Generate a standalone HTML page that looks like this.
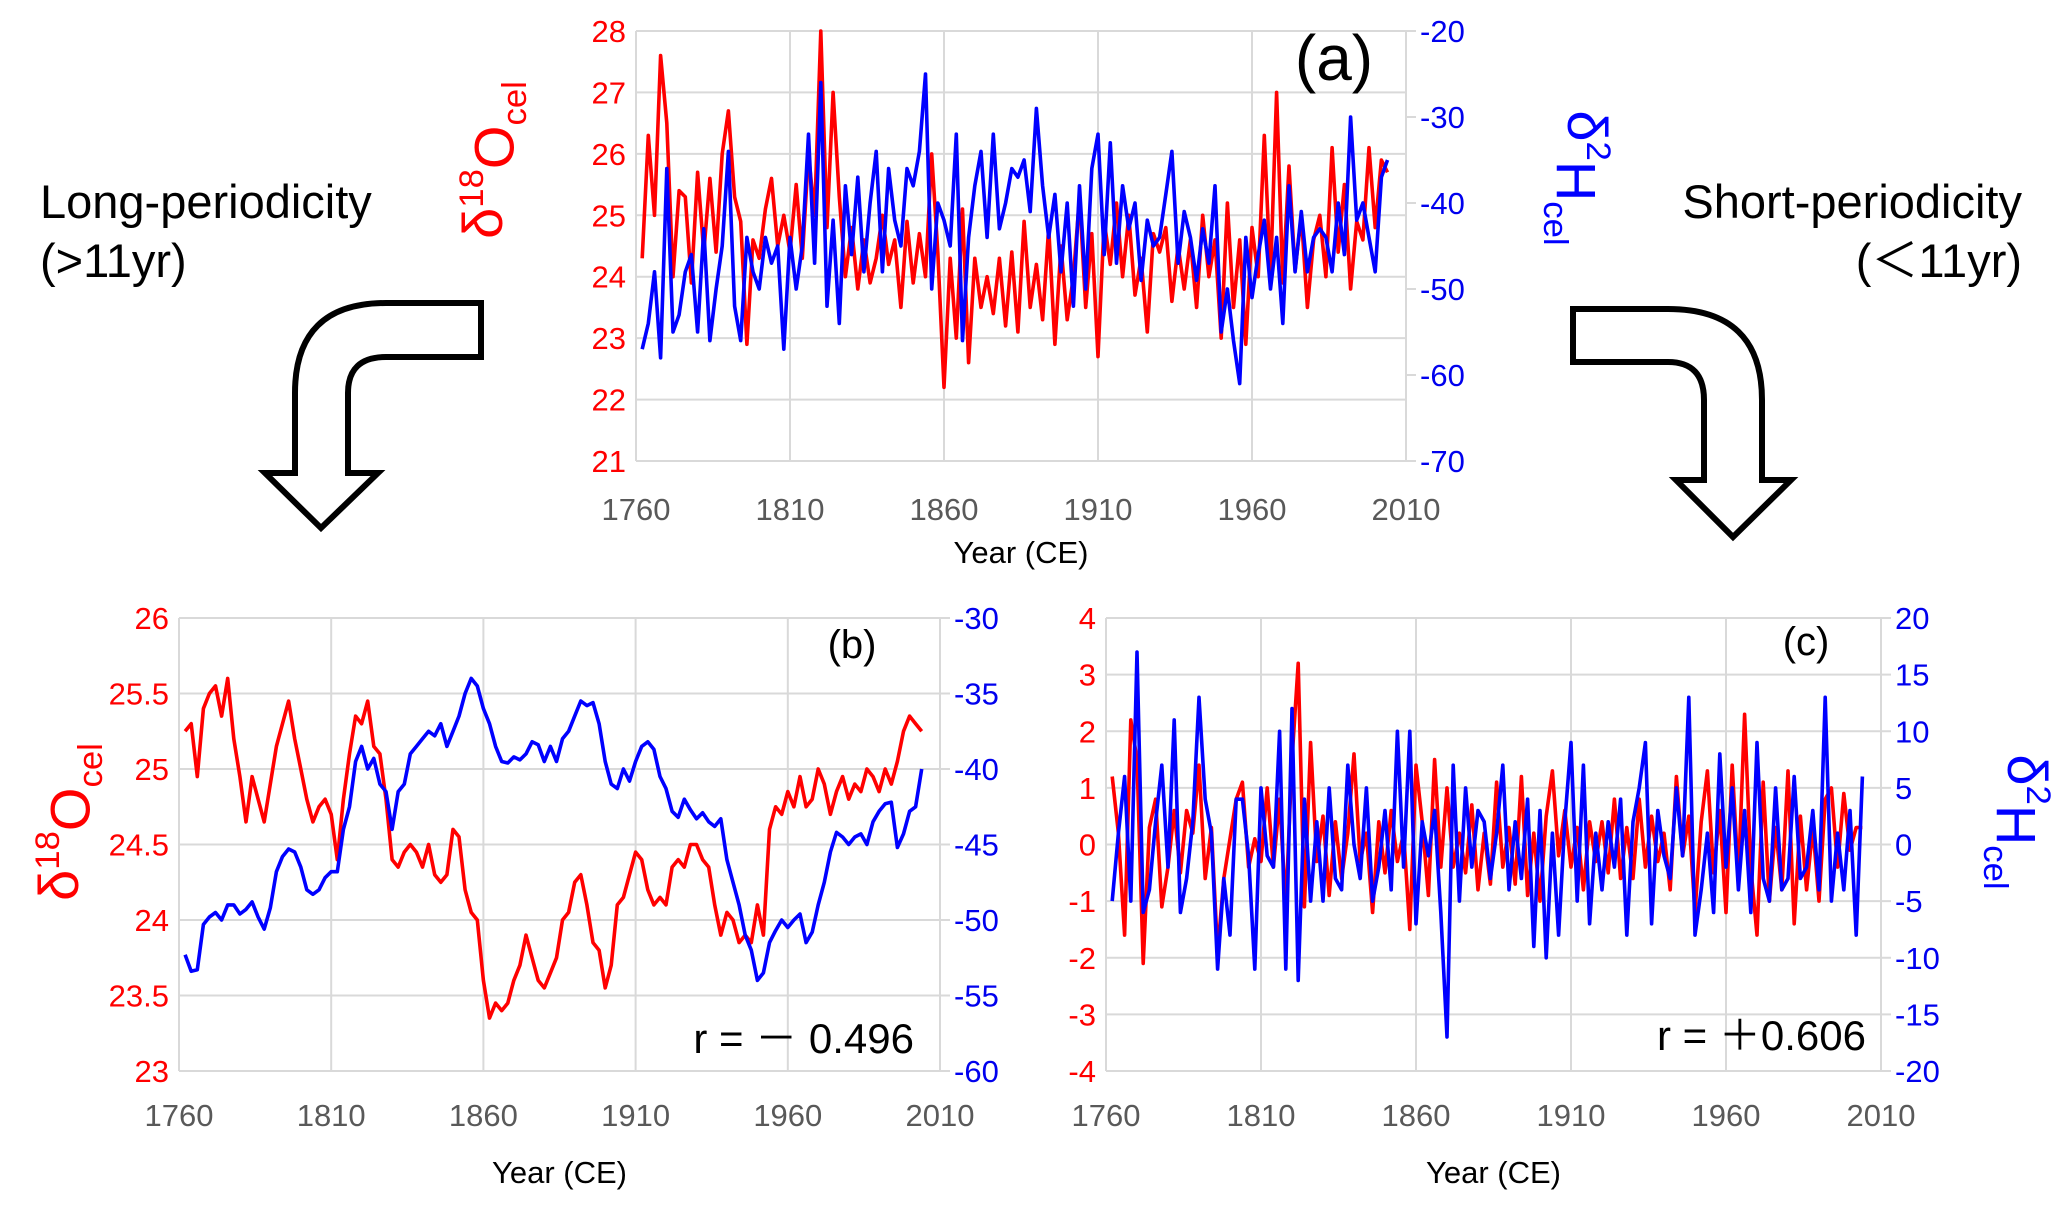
<!DOCTYPE html>
<html><head><meta charset="utf-8"><style>
html,body{margin:0;padding:0;background:#fff;}
svg{display:block;font-family:"Liberation Sans",sans-serif;}
</style></head><body>
<svg id="fig" width="2067" height="1210" viewBox="0 0 2067 1210" xmlns="http://www.w3.org/2000/svg">
<rect x="0" y="0" width="2067" height="1210" fill="#fff"/>
<text x="40" y="218" font-size="47" fill="#000">Long-periodicity</text>
<text x="40" y="277" font-size="47" fill="#000">(&gt;11yr)</text>
<text x="2022" y="218" font-size="47" fill="#000" text-anchor="end">Short-periodicity</text>
<text x="2022" y="277" font-size="47" fill="#000" text-anchor="end">(＜11yr)</text>
<path d="M481,303 L386,303 Q295,303 295,393 L295,473 L265,473 L321,528 L378,473 L348,473 L348,393 Q348,357 386,357 L481,357 Z" fill="#fff" stroke="#000" stroke-width="6" stroke-linejoin="miter"/>
<path d="M1573,309 L1668,309 Q1762,309 1762,400 L1762,480 L1791,480 L1733,537 L1676,480 L1704,480 L1704,400 Q1704,362 1668,362 L1573,362 Z" fill="#fff" stroke="#000" stroke-width="6"/>
<g id="panels"></g>
</svg>
<script>
// Shared year grid (every 2 years, 1762-2004)
const years = [];
for (let y = 1762; y <= 2004; y += 2) years.push(y);
const xTicks = [1760, 1810, 1860, 1910, 1960, 2010];

// Panel (a) raw series
const aO18 = [24.3,26.3,25.0,27.6,26.5,24.0,25.4,25.3,23.9,25.7,
 24.4,25.6,24.4,26.0,26.7,25.3,24.9,22.9,24.6,24.3,
 25.1,25.6,24.5,25.0,24.4,25.5,24.3,26.0,25.0,28.0,
 24.8,27.0,25.3,24.0,24.8,23.8,24.6,23.9,24.3,25.0,
 24.2,24.6,23.5,24.9,23.9,24.7,24.0,26.0,24.4,22.2,
 24.3,23.0,25.1,22.6,24.3,23.5,24.0,23.4,24.3,23.2,
 24.4,23.1,24.9,23.5,24.2,23.3,24.8,22.9,24.5,23.3,
 24.0,25.3,23.5,24.7,22.7,24.9,24.2,25.2,24.0,25.0,
 23.7,24.3,23.1,24.7,24.4,24.8,23.6,24.5,23.8,24.6,
 23.5,25.0,24.0,24.6,23.0,25.2,23.5,24.6,22.9,24.8,
 24.0,26.3,24.0,27.0,23.9,25.8,24.1,25.0,23.5,24.6,
 25.0,24.0,26.1,24.4,25.5,23.8,24.9,24.6,26.1,24.8,
 25.9,25.7];
const aH2 = [-57,-54,-48,-58,-36,-55,-53,-48,-46,-55,
 -43,-56,-50,-45,-34,-52,-56,-44,-48,-50,
 -44,-47,-45,-57,-44,-50,-45,-32,-47,-26,
 -52,-42,-54,-38,-46,-37,-48,-40,-34,-48,
 -36,-42,-45,-36,-38,-34,-25,-50,-40,-42,
 -45,-32,-56,-44,-38,-34,-44,-32,-43,-40,
 -36,-37,-35,-41,-29,-38,-44,-39,-48,-40,
 -52,-38,-50,-36,-32,-46,-33,-47,-38,-43,
 -40,-49,-42,-45,-44,-39,-34,-47,-41,-44,
 -49,-43,-47,-38,-55,-50,-56,-61,-44,-51,
 -46,-42,-50,-44,-54,-38,-48,-41,-48,-44,
 -43,-44,-48,-40,-46,-30,-42,-40,-44,-48,
 -37,-35];

// Panel (b) long-periodicity series
const bO18 = [25.25,25.3,24.95,25.4,25.5,25.55,25.35,25.6,25.2,24.95,
 24.65,24.95,24.8,24.65,24.9,25.15,25.3,25.45,25.2,25.0,
 24.8,24.65,24.75,24.8,24.7,24.4,24.8,25.1,25.35,25.3,
 25.45,25.15,25.1,24.8,24.4,24.35,24.45,24.5,24.45,24.35,
 24.5,24.3,24.25,24.3,24.6,24.55,24.2,24.05,24.0,23.6,
 23.35,23.45,23.4,23.45,23.6,23.7,23.9,23.75,23.6,23.55,
 23.65,23.75,24.0,24.05,24.25,24.3,24.1,23.85,23.8,23.55,
 23.7,24.1,24.15,24.3,24.45,24.4,24.2,24.1,24.15,24.1,
 24.35,24.4,24.35,24.5,24.5,24.4,24.35,24.1,23.9,24.05,
 24.0,23.85,23.9,23.85,24.1,23.9,24.6,24.75,24.7,24.85,
 24.75,24.95,24.75,24.8,25.0,24.9,24.7,24.85,24.95,24.8,
 24.9,24.85,25.0,24.95,24.85,25.0,24.9,25.05,25.25,25.35,
 25.3,25.25];
const bH2 = [-52.3,-53.4,-53.3,-50.3,-49.8,-49.5,-50.0,-49.0,-49.0,-49.6,
 -49.3,-48.8,-49.8,-50.6,-49.2,-46.8,-45.8,-45.3,-45.5,-46.5,
 -48.0,-48.3,-48.0,-47.2,-46.8,-46.8,-44,-42.5,-39.5,-38.5,
 -40,-39.3,-41,-41.5,-44,-41.5,-41,-39,-38.5,-38,
 -37.5,-37.8,-37,-38.5,-37.5,-36.5,-35,-34,-34.5,-36,
 -37,-38.5,-39.5,-39.6,-39.2,-39.4,-39.0,-38.2,-38.4,-39.5,
 -38.5,-39.5,-38.0,-37.5,-36.5,-35.5,-35.8,-35.6,-37,-39.5,
 -41,-41.3,-40,-40.8,-39.5,-38.5,-38.2,-38.7,-40.5,-41.3,
 -42.8,-43.2,-42,-42.7,-43.3,-42.9,-43.5,-43.8,-43.3,-46,
 -47.5,-49,-51,-52,-54,-53.5,-51.5,-50.7,-50,-50.5,
 -50,-49.6,-51.5,-50.8,-49,-47.5,-45.5,-44.2,-44.5,-45,
 -44.5,-44.3,-45,-43.5,-42.8,-42.3,-42.2,-45.2,-44.3,-42.8,
 -42.5,-40.0];

// Panel (c) short-periodicity series
const cO18 = [1.2,0.2,-1.6,2.2,1.5,-2.1,0.3,0.8,-1.1,-0.4,
 0.6,-0.5,0.6,0.2,1.4,-0.6,0.3,-1.9,-0.6,0.1,
 0.8,1.1,-0.4,0.1,-0.3,1.0,-0.4,0.8,-1.1,1.5,
 3.2,-1.1,1.8,-0.3,0.5,-0.9,0.4,-0.6,0.2,1.6,
 -0.3,0.2,-1.2,0.4,-0.5,0.6,-0.3,0.2,-1.5,1.4,
 0.4,-0.9,1.5,-0.4,1.0,-0.4,0.2,-0.5,0.7,-0.8,
 0.2,-0.7,1.1,-0.4,0.3,-0.7,1.2,-0.9,0.2,-1.0,
 0.5,1.3,-0.2,0.6,-0.4,0.3,-0.8,0.4,-0.3,0.4,
 -0.5,0.8,-0.6,0.3,-0.6,0.8,-0.4,0.5,-0.3,0.2,
 -0.8,1.2,-0.2,0.5,-1.2,0.4,1.3,-0.5,0.6,-1.2,
 1.4,-0.6,2.3,-0.4,-1.6,1.1,-1.0,0.3,-0.8,1.3,
 -1.4,0.5,-0.8,0.3,-1.0,0.8,1.0,-0.4,0.9,-0.1,
 0.3,0.3];
const cH2 = [-5,1,6,-5,17,-6,-4,2,7,-2,
 11,-6,-3,2,13,4,1,-11,-3,-8,
 4,4,-1,-11,5,-1,-2,10,-11,12,
 -12,4,-5,2,-5,5,-3,-4,7,0,
 -3,5,-5,-2,3,-4,10,-2,10,-7,
 2,-1,3,-6,-17,7,-5,5,-2,3,
 2,-3,1,7,-4,2,-3,4,-9,3,
 -10,1,-8,2,9,-5,7,-7,1,-4,
 2,-2,4,-8,2,5,9,-7,3,-1,
 -3,5,-1,13,-8,-4,1,-6,8,-2,
 5,-4,3,-6,9,-3,-5,5,-4,-3,
 6,-3,-2,3,-4,13,-5,1,-4,3,
 -8,6];

const aLeftTicks = [21,22,23,24,25,26,27,28];
const aRightTicks = [-70,-60,-50,-40,-30,-20];
const bLeftTicks = [23,23.5,24,24.5,25,25.5,26];
const bRightTicks = [-60,-55,-50,-45,-40,-35,-30];
const cLeftTicks = [-4,-3,-2,-1,0,1,2,3,4];
const cRightTicks = [-20,-15,-10,-5,0,5,10,15,20];

const NS = "http://www.w3.org/2000/svg";
const root = document.getElementById('panels');
function mk(tag, attrs, parent) {
  const e = document.createElementNS(NS, tag);
  for (const k in attrs) e.setAttribute(k, attrs[k]);
  (parent || root).appendChild(e);
  return e;
}

function panel(cfg) {
  const g = mk('g', {});
  
  
  const {L, R, T, B} = cfg;
  const xs = v => L + (v - 1760) / 250 * (R - L);
  const yl = v => B - (v - cfg.lMin) / (cfg.lMax - cfg.lMin) * (B - T);
  const yr = v => B - (v - cfg.rMin) / (cfg.rMax - cfg.rMin) * (B - T);
  cfg.leftTicks.forEach(t => {
    const l = mk('line', {x1: L, x2: R, y1: yl(t), y2: yl(t), stroke: '#d9d9d9', 'stroke-width': 2}, g);
    
    
    const tx = mk('text', {x: L - 10, y: yl(t) + 11, 'font-size': cfg.fs, fill: '#ff0000', 'text-anchor': 'end'}, g);
    
    
    tx.textContent = String(t);
  });
  xTicks.forEach(t => {
    const l = mk('line', {x1: xs(t), x2: xs(t), y1: T, y2: B, stroke: '#d9d9d9', 'stroke-width': 2}, g);
    
    
    const tx = mk('text', {x: xs(t), y: B + cfg.xLabDy, 'font-size': cfg.fs, fill: '#595959', 'text-anchor': 'middle'}, g);
    
    
    tx.textContent = String(t);
  });
  cfg.rightTicks.forEach(t => {
    const l = mk('line', {x1: R, x2: R + 10, y1: yr(t), y2: yr(t), stroke: '#d9d9d9', 'stroke-width': 2}, g);
    
    
    const tx = mk('text', {x: R + 14, y: yr(t) + 11, 'font-size': cfg.fs, fill: '#0000ee', 'text-anchor': 'start'}, g);
    
    
    tx.textContent = String(t);
  });
  const border = mk('line', {x1: R, x2: R, y1: T, y2: B, stroke: '#d9d9d9', 'stroke-width': 2}, g);
  
  
  const xt = mk('text', {x: (L + R) / 2, y: B + cfg.xTitleDy, 'font-size': cfg.fs, fill: '#000', 'text-anchor': 'middle'}, g);
  
  
  xt.textContent = 'Year (CE)';
  ['r', 'b'].forEach(s => {
    const vals = s === 'r' ? cfg.red : cfg.blue;
    const fy = s === 'r' ? yl : yr;
    const d = vals.map((v, i) => (i ? 'L' : 'M') + xs(years[i]).toFixed(1) + ',' + fy(v).toFixed(1)).join(' ');
    const p = mk('path', {d: d, fill: 'none', stroke: s === 'r' ? '#ff0000' : '#0000ff', 'stroke-width': 3.6, 'stroke-linejoin': 'round'}, g);
    
    
  });
  return g;
}

panel({name: 'panel-a', L: 636, R: 1406, T: 31, B: 461, lMin: 21, lMax: 28, rMin: -70, rMax: -20,
  leftTicks: aLeftTicks, rightTicks: aRightTicks, red: aO18, blue: aH2, fs: 31, xLabDy: 59, xTitleDy: 102});
panel({name: 'panel-b', L: 179, R: 940, T: 618, B: 1071, lMin: 23, lMax: 26, rMin: -60, rMax: -30,
  leftTicks: bLeftTicks, rightTicks: bRightTicks, red: bO18, blue: bH2, fs: 31, xLabDy: 55, xTitleDy: 112});
panel({name: 'panel-c', L: 1106, R: 1881, T: 618, B: 1071, lMin: -4, lMax: 4, rMin: -20, rMax: 20,
  leftTicks: cLeftTicks, rightTicks: cRightTicks, red: cO18, blue: cH2, fs: 31, xLabDy: 55, xTitleDy: 112});
</script>
<script>
(function(){
  const NS = "http://www.w3.org/2000/svg";
  const fig = document.getElementById('fig');
  function lab(html, x, y, rot, size, color, name) {
    const t = document.createElementNS(NS, 'text');
    t.setAttribute('transform', 'translate(' + x + ',' + y + ') rotate(' + rot + ')');
    t.setAttribute('text-anchor', 'middle');
    t.setAttribute('font-size', size);
    t.setAttribute('fill', color);
    
    
    t.innerHTML = html;
    fig.appendChild(t);
  }
  const o18 = 'δ<tspan font-size="0.62em" dy="-0.55em">18</tspan><tspan dy="0.55em">O</tspan><tspan font-size="0.62em" dy="0.35em">cel</tspan>';
  const h2 = 'δ<tspan font-size="0.62em" dy="-0.55em">2</tspan><tspan dy="0.55em">H</tspan><tspan font-size="0.62em" dy="0.35em">cel</tspan>';
  lab(o18, 502, 160, -90, 56, '#ff0000', 'left-y-axis-title-a');
  lab(h2, 1568, 178, 90, 56, '#0000ff', 'right-y-axis-title-a');
  lab(o18, 78, 822, -90, 56, '#ff0000', 'left-y-axis-title-b');
  lab(h2, 2008, 822, 90, 56, '#0000ff', 'right-y-axis-title-c');
  lab('(a)', 1334, 80, 0, 64, '#000', 'panel-a-label');
  lab('(b)', 852, 658, 0, 40, '#000', 'panel-b-label');
  lab('(c)', 1806, 655, 0, 40, '#000', 'panel-c-label');
  const r1 = document.createElementNS(NS, 'text');
  r1.setAttribute('x', 914); r1.setAttribute('y', 1053); r1.setAttribute('text-anchor', 'end');
  r1.setAttribute('font-size', 42); r1.setAttribute('fill', '#000');
  
  
  r1.textContent = 'r = － 0.496';
  fig.appendChild(r1);
  const r2 = document.createElementNS(NS, 'text');
  r2.setAttribute('x', 1866); r2.setAttribute('y', 1050); r2.setAttribute('text-anchor', 'end');
  r2.setAttribute('font-size', 42); r2.setAttribute('fill', '#000');
  
  
  r2.textContent = 'r = ＋0.606';
  fig.appendChild(r2);
})();
</script>
</body></html>
